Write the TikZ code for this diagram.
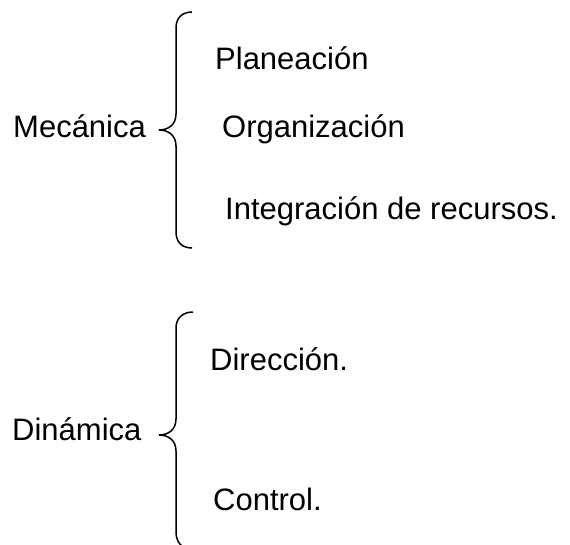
\documentclass[tikz,border=0pt]{standalone}
\usepackage{fontspec}
\setmainfont{Liberation Sans}
\tikzset{
  bracket/.style={draw=black, line width=1.5pt},
  lab/.style={font=\fontsize{31}{37}\selectfont, inner sep=0pt, anchor=base west},
}

\begin{document}
\begin{tikzpicture}[x=1pt,y=-1pt]
\useasboundingbox (0,0) rectangle (570,545);
\clip (0,0) rectangle (570,545);

% mecanica
\node[lab] (mecanica) at (13,138) {Mecánica};
\node[lab] (planeacion) at (215,70) {Planeación};
\node[lab] (organizacion) at (222,138) {Organización};
\node[lab] (integracion) at (225,220) {Integración de recursos.};
\draw[bracket] (192,12) .. controls (182,12) and (176,18) .. (176,28)
  -- (176,114) .. controls (176,125) and (168,130) .. (159,130)
  .. controls (168,130) and (176,135) .. (176,146)
  -- (176,232) .. controls (176,242) and (182,248) .. (192,248);

% dinamica
\node[lab] (dinamica) at (12,440) {Dinámica};
\node[lab] (direccion) at (210,370) {Dirección.};
\node[lab] (control) at (213,510) {Control.};
\draw[bracket] (193,312) .. controls (183,312) and (176,318) .. (176,328)
  -- (176,419) .. controls (176,430) and (168,435) .. (159,435)
  .. controls (168,435) and (176,440) .. (176,451)
  -- (176,532) .. controls (176,542) and (182,549) .. (192,550);
\end{tikzpicture}
\end{document}
